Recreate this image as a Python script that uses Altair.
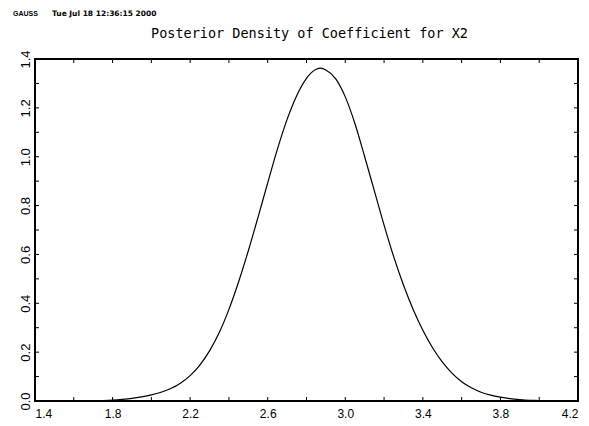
import altair as alt
import pandas as pd

# ---- data ----
x_vals = [1.70, 1.75, 1.80, 1.85, 1.90, 1.95, 2.00, 2.05, 2.10, 2.15, 2.20, 2.25,
          2.30, 2.35, 2.40, 2.45, 2.50, 2.55, 2.60, 2.65, 2.70, 2.75, 2.80, 2.85,
          2.875, 2.90, 2.95, 3.00, 3.05, 3.10, 3.15, 3.20, 3.25, 3.30, 3.35, 3.40,
          3.45, 3.50, 3.55, 3.60, 3.65, 3.70, 3.75, 3.80, 3.85, 3.90, 3.95, 4.00, 4.03]
density = [0.0005, 0.002, 0.004, 0.007, 0.011, 0.017, 0.025, 0.036, 0.051, 0.073, 0.104, 0.147,
           0.205, 0.280, 0.375, 0.488, 0.615, 0.752, 0.893, 1.031, 1.153, 1.251, 1.321, 1.358,
           1.363, 1.355, 1.320, 1.245, 1.135, 1.000, 0.860, 0.720, 0.590, 0.475, 0.375, 0.290,
           0.218, 0.160, 0.114, 0.079, 0.054, 0.036, 0.024, 0.016, 0.010, 0.006, 0.003, 0.0015, 0.000]

x_tick_values = [1.6, 1.8, 2.0, 2.2, 2.4, 2.6, 2.8, 3.0, 3.2, 3.4, 3.6, 3.8, 4.0]
x_label_values = [1.4, 1.8, 2.2, 2.6, 3.0, 3.4, 3.8, 4.2]
y_tick_values = [0.1, 0.2, 0.3, 0.4, 0.5, 0.6, 0.7, 0.8, 0.9, 1.0, 1.1, 1.2, 1.3]
y_label_values = [0.0, 0.2, 0.4, 0.6, 0.8, 1.0, 1.2, 1.4]

title_text = "Posterior Density of Coefficient for X2"
header_left = "GAUSS"
header_right = "Tue Jul 18 12:36:15 2000"

W, H = 543, 342
TICK = 4

xs = alt.Scale(domain=[1.4, 4.2], nice=False, zero=False)
ys = alt.Scale(domain=[0, 1.4], nice=False)

xaxis = alt.Axis(values=x_label_values, format=".1f", ticks=False, domain=False, grid=False,
                 labelPadding=7, labelFontSize=12, labelBaseline="top", title=None)
yaxis = alt.Axis(values=y_label_values, format=".1f", ticks=False, domain=False, grid=False,
                 labelAngle=270, labelAlign="center", labelBaseline="bottom",
                 labelPadding=3, labelFontSize=13, title=None)

curve = alt.Chart(pd.DataFrame({"x": x_vals, "y": density})).mark_line(
    color="black", strokeWidth=1.2, interpolate="monotone"
).encode(
    x=alt.X("x:Q", scale=xs, axis=xaxis),
    y=alt.Y("y:Q", scale=ys, axis=yaxis),
)

xt = pd.DataFrame({"x": x_tick_values})
yt = pd.DataFrame({"y": y_tick_values})

bottom_ticks = alt.Chart(xt).mark_rule(color="black", strokeWidth=1).encode(
    x=alt.X("x:Q", scale=xs, axis=xaxis), y=alt.value(H), y2=alt.value(H - TICK))
top_ticks = alt.Chart(xt).mark_rule(color="black", strokeWidth=1).encode(
    x=alt.X("x:Q", scale=xs, axis=xaxis), y=alt.value(0), y2=alt.value(TICK))
left_ticks = alt.Chart(yt).mark_rule(color="black", strokeWidth=1).encode(
    y=alt.Y("y:Q", scale=ys, axis=yaxis), x=alt.value(0), x2=alt.value(TICK))
right_ticks = alt.Chart(yt).mark_rule(color="black", strokeWidth=1).encode(
    y=alt.Y("y:Q", scale=ys, axis=yaxis), x=alt.value(W), x2=alt.value(W - TICK))

def label(text, x, y, size, weight, font, align):
    return alt.Chart(pd.DataFrame({"t": [text]})).mark_text(
        align=align, baseline="middle", fontSize=size, fontWeight=weight,
        font=font, color="black"
    ).encode(x=alt.value(x), y=alt.value(y), text="t:N")

hdr1 = label(header_left, -22, -45, 7, "bold", "Liberation Sans", "left")
hdr2 = label(header_right, 17, -45, 7.5, "bold", "DejaVu Sans", "left")
ttl = label(title_text, W / 2 + 3, -25, 13.5, "normal", "DejaVu Sans Mono", "center")

chart = alt.layer(curve, bottom_ticks, top_ticks, left_ticks, right_ticks, hdr1, hdr2, ttl).properties(
    width=W, height=H,
    background="white",
    autosize=alt.AutoSizeParams(type="none"),
    padding={"left": 35, "top": 59, "right": 11, "bottom": 25},
).configure_view(
    stroke="black", strokeWidth=2
).configure_axis(
    labelFont="Liberation Sans", labelColor="black"
)

chart.save("out.html", embed_options={"renderer": "svg", "actions": False})
